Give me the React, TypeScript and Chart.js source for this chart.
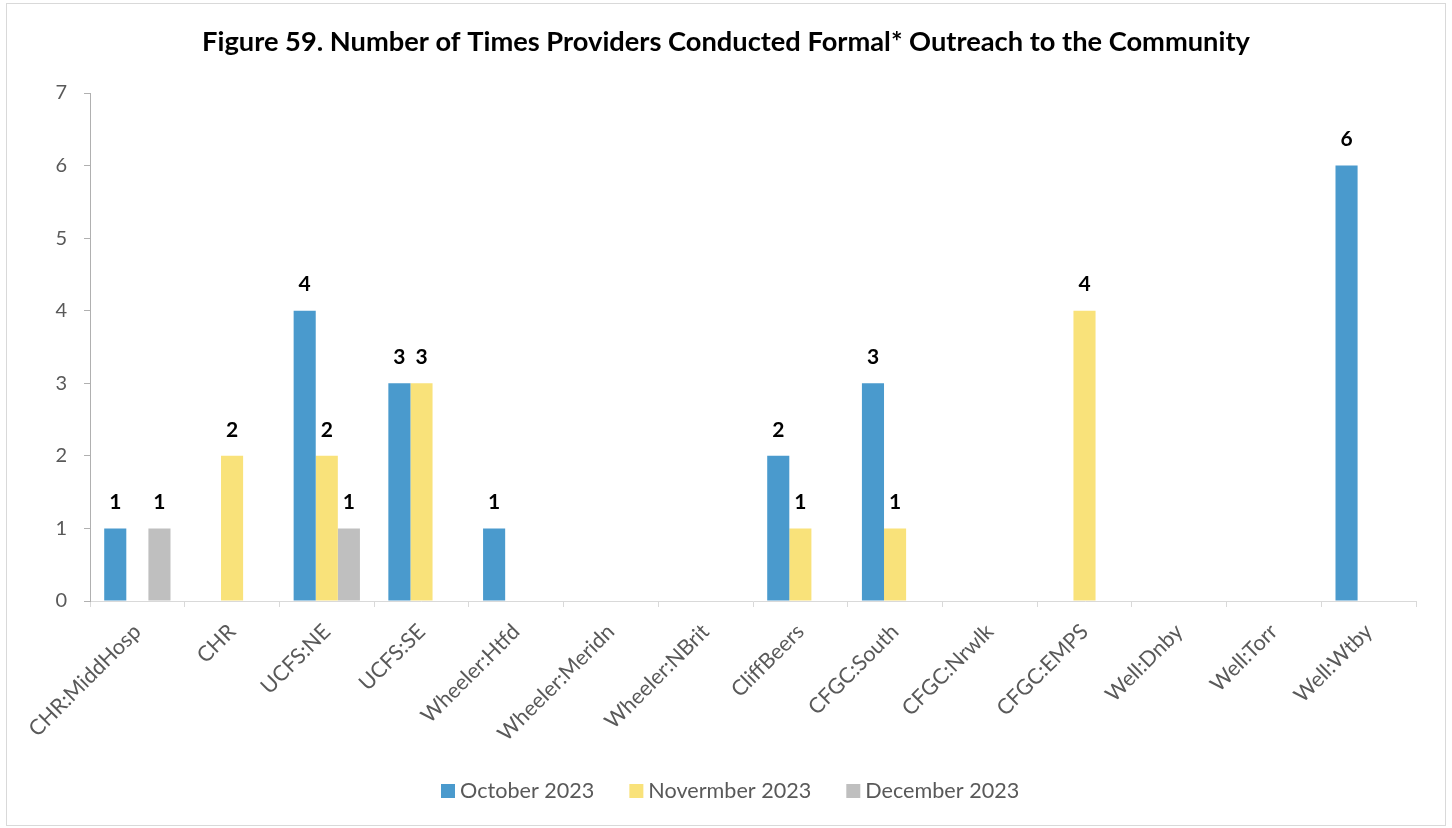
import React, { useEffect, useRef } from "react";
import { Chart, registerables } from "chart.js";

Chart.register(...registerables);

const TITLE = "Figure 59. Number of Times Providers Conducted Formal* Outreach to the Community";
const CATEGORIES = [
  "CHR:MiddHosp",
  "CHR",
  "UCFS:NE",
  "UCFS:SE",
  "Wheeler:Htfd",
  "Wheeler:Meridn",
  "Wheeler:NBrit",
  "CliffBeers",
  "CFGC:South",
  "CFGC:Nrwlk",
  "CFGC:EMPS",
  "Well:Dnby",
  "Well:Torr",
  "Well:Wtby",
];
const OCTOBER_2023 = [1, 0, 4, 3, 1, 0, 0, 2, 3, 0, 0, 0, 0, 6];
const NOVEMBER_2023 = [0, 2, 2, 3, 0, 0, 0, 1, 1, 0, 4, 0, 0, 0];
const DECEMBER_2023 = [1, 0, 1, 0, 0, 0, 0, 0, 0, 0, 0, 0, 0, 0];
const SERIES_NAMES = ["October 2023", "Novermber 2023", "December 2023"];
const SERIES_COLORS = ["#4A9ACD", "#F9E27A", "#BFBFBF"];
const Y_MIN = 0;
const Y_MAX = 7;
const Y_STEP = 1;

const FONT = "Lato, 'Open Sans', sans-serif";
const TEXT_GRAY = "#595959";

const framePlugin = {
  id: "frame",
  beforeDraw(chart: any) {
    const ctx = chart.ctx;
    ctx.save();
    ctx.fillStyle = "#ffffff";
    ctx.fillRect(0, 0, chart.width, chart.height);
    ctx.strokeStyle = "#D9D9D9";
    ctx.lineWidth = 1;
    ctx.strokeRect(6.5, 3.5, 1439, 822);
    ctx.restore();
  },
};

const titlePlugin = {
  id: "customTitle",
  afterDraw(chart: any) {
    const ctx = chart.ctx;
    ctx.save();
    let size = 26;
    ctx.font = `bold ${size}px ${FONT}`;
    const w = ctx.measureText(TITLE).width;
    const target = 1048;
    size = (size * target) / w;
    ctx.font = `bold ${size}px ${FONT}`;
    ctx.fillStyle = "#000000";
    ctx.textAlign = "center";
    ctx.textBaseline = "alphabetic";
    ctx.fillText(TITLE, 726, 51);
    ctx.restore();
  },
};

const legendPlugin = {
  id: "customLegend",
  afterDraw(chart: any) {
    const ctx = chart.ctx;
    ctx.save();
    ctx.font = `21.6px ${FONT}`;
    ctx.textBaseline = "middle";
    ctx.textAlign = "left";
    let x = 441;
    const cy = 791;
    chart.data.datasets.forEach((ds: any) => {
      ctx.fillStyle = ds.backgroundColor;
      ctx.fillRect(x, cy - 7, 14, 14);
      ctx.fillStyle = TEXT_GRAY;
      ctx.fillText(ds.label, x + 19, cy);
      x += 19 + ctx.measureText(ds.label).width + 35;
    });
    ctx.restore();
  },
};

const dataLabelPlugin = {
  id: "dataLabels",
  afterDatasetsDraw(chart: any) {
    const ctx = chart.ctx;
    ctx.save();
    ctx.font = `bold 21px ${FONT}`;
    ctx.fillStyle = "#000000";
    ctx.textAlign = "center";
    ctx.textBaseline = "middle";
    chart.data.datasets.forEach((ds: any, di: number) => {
      const meta = chart.getDatasetMeta(di);
      meta.data.forEach((bar: any, i: number) => {
        const v = ds.data[i];
        if (v > 0) {
          ctx.fillText(String(v), bar.x, bar.y - 26);
        }
      });
    });
    ctx.restore();
  },
};

export default function App() {
  const canvasRef = useRef<HTMLCanvasElement | null>(null);

  useEffect(() => {
    document.body.style.margin = "0";
    const canvas = canvasRef.current;
    if (!canvas) return;
    const seriesData = [OCTOBER_2023, NOVEMBER_2023, DECEMBER_2023];
    const chart = new Chart(canvas, {
      type: "bar",
      data: {
        labels: CATEGORIES,
        datasets: SERIES_NAMES.map((name, i) => ({
          label: name,
          data: seriesData[i],
          backgroundColor: SERIES_COLORS[i],
          borderWidth: 0,
          categoryPercentage: 0.7,
          barPercentage: 1.0,
        })),
      },
      options: {
        responsive: false,
        animation: false,
        devicePixelRatio: 1,
        layout: { padding: { top: 93, right: 36, left: 0, bottom: 0 } },
        plugins: {
          legend: { display: false },
          title: { display: false },
          tooltip: { enabled: false },
        },
        scales: {
          x: {
            grid: {
              display: true,
              drawOnChartArea: false,
              drawTicks: true,
              tickLength: 6,
              color: "#D9D9D9",
              offset: true,
            },
            border: { display: true, color: "#D9D9D9", width: 1 },
            ticks: {
              color: TEXT_GRAY,
              font: { family: FONT, size: 21.5 },
              maxRotation: 45,
              minRotation: 45,
              autoSkip: false,
              padding: 12,
            },
            afterFit(scale: any) {
              scale.height = 227;
            },
          },
          y: {
            min: Y_MIN,
            max: Y_MAX,
            grid: {
              display: true,
              drawOnChartArea: false,
              drawTicks: true,
              tickLength: 6,
              color: "#B0B0B0",
            },
            border: { display: true, color: "#B0B0B0", width: 1 },
            ticks: {
              stepSize: Y_STEP,
              color: TEXT_GRAY,
              font: { family: FONT, size: 20 },
              padding: 17,
            },
            afterFit(scale: any) {
              scale.width = 90;
            },
          },
        },
      },
      plugins: [framePlugin, dataLabelPlugin, titlePlugin, legendPlugin],
    });
    return () => chart.destroy();
  }, []);

  return (
    <div style={{ position: "absolute", left: 0, top: 0, width: 1452, height: 828 }}>
      <canvas ref={canvasRef} width={1452} height={828} style={{ width: 1452, height: 828 }} />
    </div>
  );
}
